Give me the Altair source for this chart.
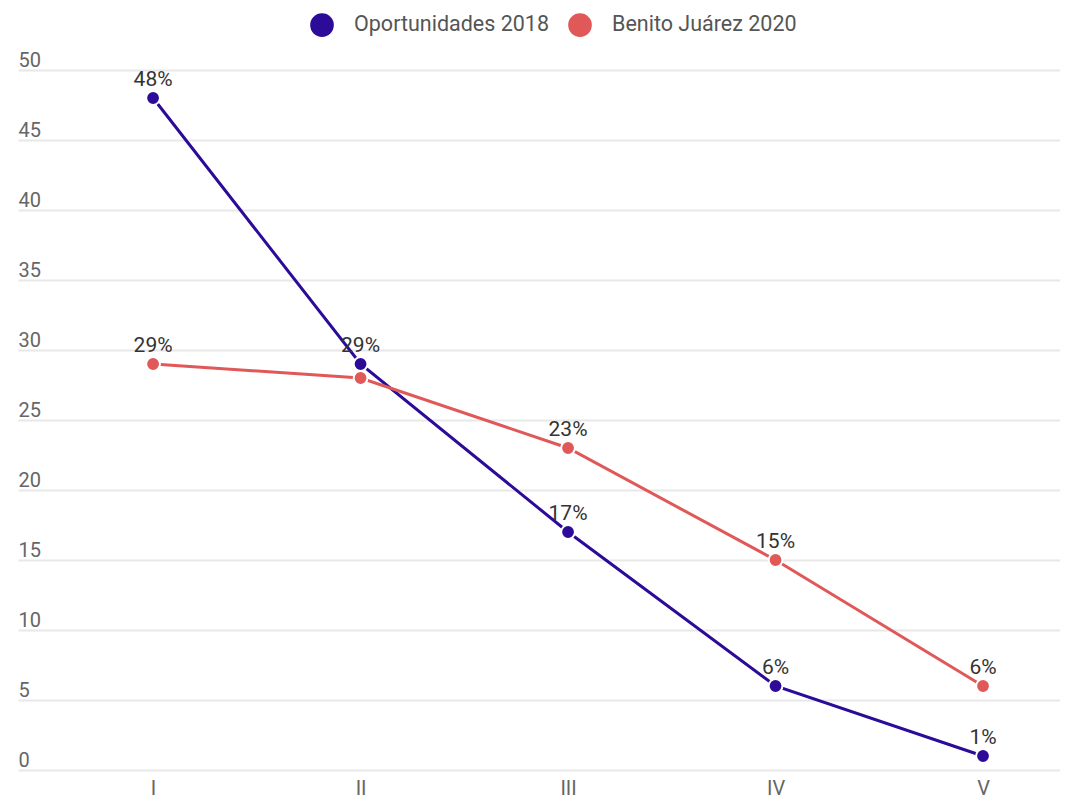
import altair as alt
import pandas as pd

categories = ["I", "II", "III", "IV", "V"]
series_names = ["Oportunidades 2018", "Benito Juárez 2020"]
oportunidades_2018 = [48, 29, 17, 6, 1]
benito_juarez_2020 = [29, 28, 23, 15, 6]
colors = ["#2c0b98", "#e05858"]
y_ticks = [0, 5, 10, 15, 20, 25, 30, 35, 40, 45, 50]

rows = []
for name, vals in zip(series_names, [oportunidades_2018, benito_juarez_2020]):
    for i, (c, v) in enumerate(zip(categories, vals)):
        rows.append({"cat": c, "serie": name, "valor": v, "order": i,
                     "label": f"{v}%"})
df = pd.DataFrame(rows)

FONT = "Roboto"

x = alt.X("cat:N", sort=categories, title=None,
          scale=alt.Scale(type="point", padding=0.511, align=0.637),
          axis=alt.Axis(domain=False, ticks=False, grid=False, labelAngle=0,
                        labelPadding=8, labelFontSize=20, labelColor="#666666",
                        labelFont=FONT))
y = alt.Y("valor:Q", title=None,
          scale=alt.Scale(domain=[0, 50], nice=False),
          axis=alt.Axis(values=y_ticks, domain=False, ticks=False, tickSize=0,
                        labelAlign="left", labelPadding=0, labelBaseline="alphabetic",
                        labelOffset=-4, labelFontSize=20, labelColor="#666666",
                        labelFont=FONT, gridColor="#e8e8e8", gridWidth=2))
color = alt.Color("serie:N", sort=series_names,
                  scale=alt.Scale(domain=series_names, range=colors),
                  legend=alt.Legend(orient="none", direction="horizontal",
                                    legendX=292, legendY=-57, title=None,
                                    symbolType="circle", symbolSize=560,
                                    symbolStrokeWidth=0, labelFontSize=21.5,
                                    labelColor="#555555", labelFont=FONT,
                                    labelLimit=400,
                                    labelOffset=20, columnPadding=18))

base = alt.Chart(df)

lines = base.mark_line(strokeWidth=3).encode(x=x, y=y, color=color, detail="serie:N",
                                              order="order:Q")
points = base.mark_point(filled=True, size=190, stroke="white", strokeWidth=2,
                         opacity=1).encode(x=x, y=y, color=color)
labels = base.transform_filter(
    "!(datum.serie == 'Benito Juárez 2020' && datum.cat == 'II')"
).mark_text(baseline="alphabetic", dy=-12, fontSize=21, color="#333333",
            font=FONT).encode(x=x, y=y, text="label:N")

chart = alt.layer(lines, points, labels).properties(
    width=1042, height=700,
    padding={"left": 10, "top": 5, "right": 0, "bottom": 0},
).configure_view(stroke=None)

chart.save("out.html", embed_options={"renderer": "svg", "actions": False})
